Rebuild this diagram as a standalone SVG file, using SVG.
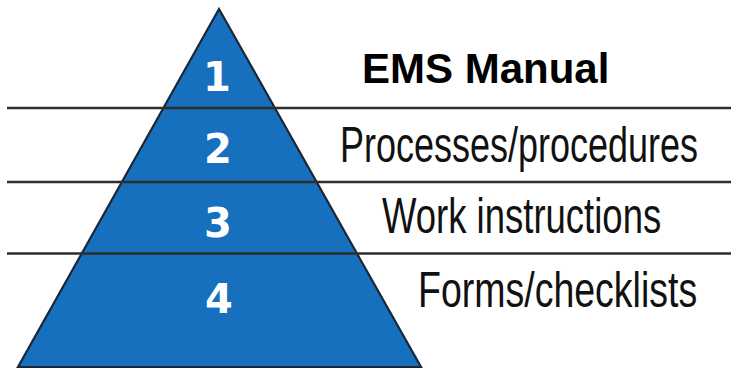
<svg xmlns="http://www.w3.org/2000/svg" width="740" height="376" viewBox="0 0 740 376">
<style>
.tri{fill:#1670be;stroke:#1b2736;stroke-width:2.2;stroke-linejoin:miter}
.div{stroke:#2e2e2e;stroke-width:2.4;fill:none}
.num{font-family:"DejaVu Sans",sans-serif;font-weight:bold;font-size:40px;fill:#ffffff;text-anchor:middle}
.lbl{font-family:"Liberation Sans",sans-serif;font-size:50px;fill:#111111}
.title{font-family:"Liberation Sans",Arial,sans-serif;font-weight:bold;font-size:42px;fill:#000000}
</style>
<rect width="740" height="376" fill="#ffffff"/>
<g id="pyramid">
<polygon class="tri" points="219,9 421,367 18,367"/>
</g>
<g id="connectors">
<line class="div" x1="7" y1="108" x2="731" y2="108"/>
<line class="div" x1="7" y1="182" x2="731" y2="182"/>
<line class="div" x1="7" y1="253.5" x2="731" y2="253.5"/>
</g>
<g id="tier1">
<text class="num" x="217" y="91">1</text>
<text class="title" x="362" y="83">EMS Manual</text>
</g>
<g id="tier2">
<text class="num" x="218" y="163">2</text>
<text class="lbl" transform="translate(340,162) scale(0.72,1)" x="0" y="0">Processes/procedures</text>
</g>
<g id="tier3">
<text class="num" x="218" y="237">3</text>
<text class="lbl" transform="translate(382,233) scale(0.73,1)" x="0" y="0">Work instructions</text>
</g>
<g id="tier4">
<text class="num" x="219" y="313">4</text>
<text class="lbl" transform="translate(418,307) scale(0.75,1)" x="0" y="0">Forms/checklists</text>
</g>
</svg>
